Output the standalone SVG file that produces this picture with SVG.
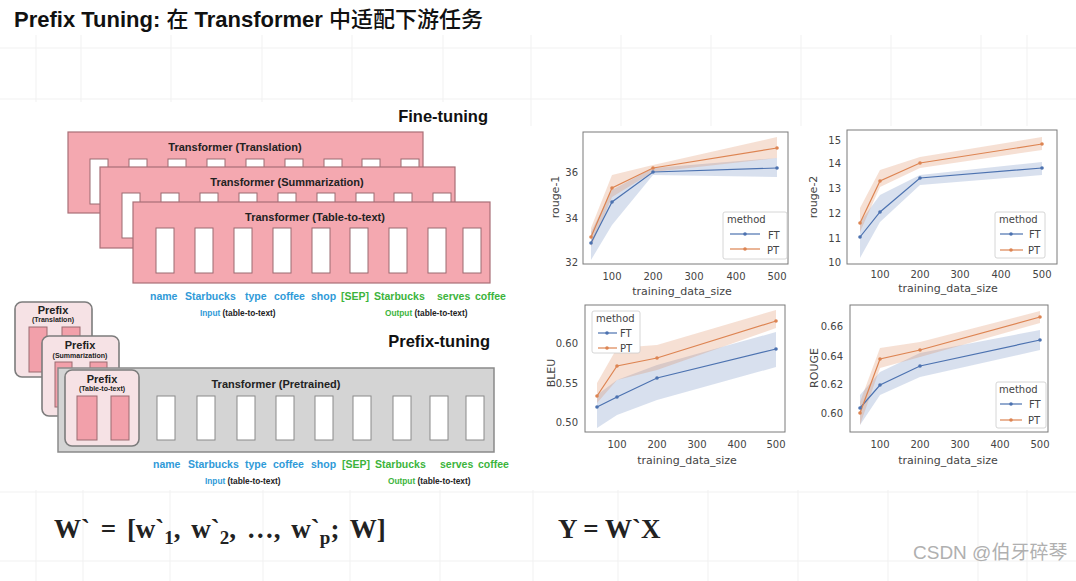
<svg xmlns="http://www.w3.org/2000/svg" width="1076" height="581" viewBox="0 0 1076 581">
<defs>
<style>
.grid{stroke:#f1f1f1;stroke-width:1;fill:none}
.ttl{font-family:"Liberation Sans","Noto Sans CJK SC",sans-serif;font-weight:bold;font-size:22px;fill:#111}
.hd{font-family:"Liberation Sans",Arial,sans-serif;font-weight:bold;font-size:16.5px;fill:#111}
.pk{fill:#f4a8b0;stroke:#a86f77;stroke-width:1.2}
.wt{fill:#ffffff;stroke:#9a6a70;stroke-width:1}
.wg{fill:#ffffff;stroke:#8a8a8a;stroke-width:1}
.tl{font-family:"Liberation Sans",Arial,sans-serif;font-weight:bold;font-size:11px;fill:#222;text-anchor:middle}
.pf{fill:#f6e2e5;stroke:#7c7c7c;stroke-width:1.6}
.pr{fill:#f2a0aa;stroke:#9a6a70;stroke-width:1}
.p1{font-family:"Liberation Sans",Arial,sans-serif;font-weight:bold;font-size:11px;fill:#222;text-anchor:middle}
.p2{font-family:"Liberation Sans",Arial,sans-serif;font-weight:bold;font-size:7px;fill:#222;text-anchor:middle}
.wd{font-family:"Liberation Sans",Arial,sans-serif;font-weight:bold;font-size:10.5px}
.bl{fill:#2f9ad8}
.gr{fill:#3cb43c}
.sm{font-family:"Liberation Sans",Arial,sans-serif;font-weight:bold;font-size:8.3px;fill:#222}
.ax{fill:#ffffff;stroke:#7a7a7a;stroke-width:1}
.tk{font-family:"DejaVu Sans",sans-serif;font-size:10px;fill:#444}
.tky{font-family:"DejaVu Sans",sans-serif;font-size:10px;fill:#444;text-anchor:end}
.tkx{font-family:"DejaVu Sans",sans-serif;font-size:10px;fill:#444;text-anchor:middle}
.lab{font-family:"DejaVu Sans",sans-serif;font-size:11px;fill:#444;text-anchor:middle}
.ftb{fill:#4c72b0;fill-opacity:0.22;stroke:none}
.ptb{fill:#dd8452;fill-opacity:0.25;stroke:none}
.ftl{fill:none;stroke:#4c72b0;stroke-width:1.2}
.ptl{fill:none;stroke:#dd8452;stroke-width:1.2}
.ftd{fill:#4c72b0}
.ptd{fill:#dd8452}
.leg{fill:#ffffff;stroke:#cccccc;stroke-width:0.8}
.fm{font-family:"Liberation Serif","Times New Roman",serif;font-weight:bold;font-size:27px;fill:#222}
.wm{font-family:"Liberation Sans","Noto Sans CJK SC",sans-serif;font-size:19px;fill:#b0b0b0}
</style>
</defs>
<rect x="0" y="0" width="1076" height="581" fill="#ffffff"/>
<g id="background-grid">
<path class="grid" d="M0 48H1076M0 99H1076M36 35V102M81 35V102M171 35V102M262 35V102M352 35V102M443 35V102M531 35V126M621 35V126M711 35V126M801 35V126M891 35V126M981 35V126M1027 35V126M0 492H1076M0 561H1076M36 490V581M83 490V581M170 490V581M263 490V581M350 490V581M440 490V581M533 490V581M618 490V581M708 490V581M798 490V581M888 490V581M978 490V581M1027 490V581"/>
</g>
<g id="title"><text class="ttl" x="14" y="27">Prefix Tuning: <tspan font-weight="500">在</tspan> Transformer <tspan font-weight="500">中适配下游任务</tspan></text></g>

<g id="fine-tuning">
<text class="hd" x="488" y="122" text-anchor="end">Fine-tuning</text>
<g id="ft-translation">
<rect class="pk" x="68" y="132" width="355" height="81"/>
<text class="tl" x="235" y="151">Transformer (Translation)</text>
<g class="wt"><rect x="90" y="159" width="18" height="45"/><rect x="129" y="159" width="18" height="45"/><rect x="168" y="159" width="18" height="45"/><rect x="207" y="159" width="18" height="45"/><rect x="246" y="159" width="18" height="45"/><rect x="285" y="159" width="18" height="45"/><rect x="324" y="159" width="18" height="45"/><rect x="362" y="159" width="18" height="45"/><rect x="401" y="159" width="18" height="45"/></g>
</g>
<g id="ft-summarization">
<rect class="pk" x="100" y="167" width="355" height="81"/>
<text class="tl" x="287" y="186">Transformer (Summarization)</text>
<g class="wt"><rect x="122" y="193" width="18" height="45"/><rect x="161" y="193" width="18" height="45"/><rect x="200" y="193" width="18" height="45"/><rect x="239" y="193" width="18" height="45"/><rect x="278" y="193" width="18" height="45"/><rect x="317" y="193" width="18" height="45"/><rect x="356" y="193" width="18" height="45"/><rect x="394" y="193" width="18" height="45"/><rect x="433" y="193" width="18" height="45"/></g>
</g>
<g id="ft-table-to-text">
<rect class="pk" x="133" y="202" width="357" height="81"/>
<text class="tl" x="315" y="221">Transformer (Table-to-text)</text>
<g class="wt"><rect x="156" y="228" width="18" height="45"/><rect x="195" y="228" width="18" height="45"/><rect x="234" y="228" width="18" height="45"/><rect x="273" y="228" width="18" height="45"/><rect x="312" y="228" width="18" height="45"/><rect x="350" y="228" width="18" height="45"/><rect x="389" y="228" width="18" height="45"/><rect x="428" y="228" width="18" height="45"/><rect x="463" y="228" width="18" height="45"/></g>
</g>
<g id="ft-tokens">
<text class="wd"><tspan class="bl" x="150" y="300">name</tspan><tspan class="bl" x="185" y="300">Starbucks</tspan><tspan class="bl" x="245" y="300">type</tspan><tspan class="bl" x="274" y="300">coffee</tspan><tspan class="bl" x="311" y="300">shop</tspan><tspan class="gr" x="341" y="300">[SEP]</tspan><tspan class="gr" x="374" y="300">Starbucks</tspan><tspan class="gr" x="437" y="300">serves</tspan><tspan class="gr" x="475" y="300">coffee</tspan></text>
<text class="sm" x="200" y="316"><tspan class="bl">Input</tspan> (table-to-text)</text>
<text class="sm" x="385" y="316"><tspan class="gr">Output</tspan> (table-to-text)</text>
</g>
</g>

<g id="prefix-tuning">
<text class="hd" x="490" y="347" text-anchor="end">Prefix-tuning</text>
<g id="prefix-translation">
<rect class="pf" x="15" y="302" width="77" height="75" rx="7"/>
<text class="p1" x="53" y="314">Prefix</text>
<text class="p2" x="53" y="322">(Translation)</text>
<rect class="pr" x="29" y="327" width="18" height="45"/><rect class="pr" x="62" y="327" width="18" height="45"/>
</g>
<g id="prefix-summarization">
<rect class="pf" x="42" y="336" width="77" height="80" rx="7"/>
<text class="p1" x="80" y="349">Prefix</text>
<text class="p2" x="80" y="358">(Summarization)</text>
<rect class="pr" x="55" y="362" width="17" height="45"/><rect class="pr" x="90" y="362" width="17" height="45"/>
</g>
<g id="transformer-pretrained">
<rect x="58" y="368" width="436" height="84" fill="#d4d4d4" stroke="#8a8a8a" stroke-width="1.5"/>
<text class="tl" x="276" y="388" font-size="11.5">Transformer  (Pretrained)</text>
<g class="wg"><rect x="157" y="396" width="18" height="44"/><rect x="197" y="396" width="18" height="44"/><rect x="237" y="396" width="18" height="44"/><rect x="276" y="396" width="18" height="44"/><rect x="315" y="396" width="18" height="44"/><rect x="353" y="396" width="18" height="44"/><rect x="393" y="396" width="18" height="44"/><rect x="430" y="396" width="18" height="44"/><rect x="466" y="396" width="18" height="44"/></g>
</g>
<g id="prefix-table-to-text">
<rect class="pf" x="65" y="370" width="74" height="76" rx="7"/>
<text class="p1" x="102" y="383">Prefix</text>
<text class="p2" x="102" y="391">(Table-to-text)</text>
<rect class="pr" x="77" y="396" width="20" height="44"/><rect class="pr" x="111" y="396" width="18" height="44"/>
</g>
<g id="pt-tokens">
<text class="wd"><tspan class="bl" x="153" y="468">name</tspan><tspan class="bl" x="188" y="468">Starbucks</tspan><tspan class="bl" x="245" y="468">type</tspan><tspan class="bl" x="273" y="468">coffee</tspan><tspan class="bl" x="311" y="468">shop</tspan><tspan class="gr" x="342" y="468">[SEP]</tspan><tspan class="gr" x="375" y="468">Starbucks</tspan><tspan class="gr" x="440" y="468">serves</tspan><tspan class="gr" x="478" y="468">coffee</tspan></text>
<text class="sm" x="205" y="484"><tspan class="bl">Input</tspan> (table-to-text)</text>
<text class="sm" x="388" y="484"><tspan class="gr">Output</tspan> (table-to-text)</text>
</g>
</g>

<g id="connectors"></g>

<g id="chart-rouge1">
<rect class="ax" x="583" y="132" width="205" height="132"/>
<polygon class="ftb" points="591,232 612,190 653,168 777,158 777,177 653,175 612,225 591,260"/>
<polygon class="ptb" points="591,228 612,175 653,165 777,137 777,158 653,172 612,197 591,247"/>
<polyline class="ftl" points="591,243 612,202 653,172 777,168"/>
<polyline class="ptl" points="591,237 612,188 653,168 777,148"/>
<g class="ftd"><circle cx="591" cy="243" r="1.8"/><circle cx="612" cy="202" r="1.8"/><circle cx="653" cy="172" r="1.8"/><circle cx="777" cy="168" r="1.8"/></g>
<g class="ptd"><circle cx="591" cy="237" r="1.8"/><circle cx="612" cy="188" r="1.8"/><circle cx="653" cy="168" r="1.8"/><circle cx="777" cy="148" r="1.8"/></g>
<text class="tky" x="578" y="265.5">32</text><text class="tky" x="578" y="221.5">34</text><text class="tky" x="578" y="175.5">36</text>
<text class="tkx" x="612" y="280">100</text><text class="tkx" x="653" y="280">200</text><text class="tkx" x="694" y="280">300</text><text class="tkx" x="736" y="280">400</text><text class="tkx" x="777" y="280">500</text>
<text class="lab" x="682" y="295">training_data_size</text>
<text class="lab" transform="translate(559 197) rotate(-90)">rouge-1</text>
<rect class="leg" x="723" y="212" width="64" height="47" rx="2"/>
<text class="tk" x="727" y="223" font-size="13">method</text>
<line class="ftl" x1="730" y1="234" x2="760" y2="234"/><circle class="ftd" cx="745" cy="234" r="1.8"/><text class="tk" x="768" y="238.5" font-size="12">FT</text>
<line class="ptl" x1="730" y1="249" x2="760" y2="249"/><circle class="ptd" cx="745" cy="249" r="1.8"/><text class="tk" x="767" y="253.5" font-size="12">PT</text>
</g>

<g id="chart-rouge2">
<rect class="ax" x="847" y="130" width="210" height="134"/>
<polygon class="ftb" points="860,222 880,195 920,175 1042,162 1042,175 920,185 880,222 860,258"/>
<polygon class="ptb" points="860,208 880,170 920,157 1042,137 1042,150 920,168 880,187 860,232"/>
<polyline class="ftl" points="860,237 880,212 920,178 1042,168"/>
<polyline class="ptl" points="860,223 880,181 920,163 1042,144"/>
<g class="ftd"><circle cx="860" cy="237" r="1.8"/><circle cx="880" cy="212" r="1.8"/><circle cx="920" cy="178" r="1.8"/><circle cx="1042" cy="168" r="1.8"/></g>
<g class="ptd"><circle cx="860" cy="223" r="1.8"/><circle cx="880" cy="181" r="1.8"/><circle cx="920" cy="163" r="1.8"/><circle cx="1042" cy="144" r="1.8"/></g>
<text class="tky" x="841" y="143.5">15</text><text class="tky" x="841" y="166.5">14</text><text class="tky" x="841" y="191.5">13</text><text class="tky" x="841" y="216.5">12</text><text class="tky" x="841" y="241.5">11</text><text class="tky" x="841" y="265.5">10</text>
<text class="tkx" x="880" y="278">100</text><text class="tkx" x="920" y="278">200</text><text class="tkx" x="960" y="278">300</text><text class="tkx" x="1001" y="278">400</text><text class="tkx" x="1042" y="278">500</text>
<text class="lab" x="948" y="292">training_data_size</text>
<text class="lab" transform="translate(817 197) rotate(-90)">rouge-2</text>
<rect class="leg" x="995" y="212" width="50" height="46" rx="2"/>
<text class="tk" x="999" y="223" font-size="10.5">method</text>
<line class="ftl" x1="1000" y1="234" x2="1023" y2="234"/><circle class="ftd" cx="1011" cy="234" r="1.8"/><text class="tk" x="1029" y="237.5">FT</text>
<line class="ptl" x1="1000" y1="250" x2="1023" y2="250"/><circle class="ptd" cx="1011" cy="250" r="1.8"/><text class="tk" x="1028" y="253.5">PT</text>
</g>

<g id="chart-bleu">
<rect class="ax" x="585" y="305" width="200" height="127"/>
<polygon class="ftb" points="597,395 617,380 657,365 776,332 776,367 657,400 617,415 597,428"/>
<polygon class="ptb" points="597,383 617,348 657,345 776,310 776,328 657,370 617,380 597,403"/>
<polyline class="ftl" points="597,407 617,397 657,378 776,349"/>
<polyline class="ptl" points="597,396 617,366 657,358 776,321"/>
<g class="ftd"><circle cx="597" cy="407" r="1.8"/><circle cx="617" cy="397" r="1.8"/><circle cx="657" cy="378" r="1.8"/><circle cx="776" cy="349" r="1.8"/></g>
<g class="ptd"><circle cx="597" cy="396" r="1.8"/><circle cx="617" cy="366" r="1.8"/><circle cx="657" cy="358" r="1.8"/><circle cx="776" cy="321" r="1.8"/></g>
<text class="tky" x="578" y="346.5">0.60</text><text class="tky" x="578" y="386.5">0.55</text><text class="tky" x="578" y="425.5">0.50</text>
<text class="tkx" x="617" y="448">100</text><text class="tkx" x="657" y="448">200</text><text class="tkx" x="697" y="448">300</text><text class="tkx" x="737" y="448">400</text><text class="tkx" x="776" y="448">500</text>
<text class="lab" x="687" y="464">training_data_size</text>
<text class="lab" transform="translate(555 373) rotate(-90)">BLEU</text>
<rect class="leg" x="592" y="311" width="48" height="42" rx="2"/>
<text class="tk" x="596" y="322" font-size="10.5">method</text>
<line class="ftl" x1="598" y1="333" x2="617" y2="333"/><circle class="ftd" cx="607" cy="333" r="1.8"/><text class="tk" x="620" y="336.5">FT</text>
<line class="ptl" x1="598" y1="348" x2="617" y2="348"/><circle class="ptd" cx="607" cy="348" r="1.8"/><text class="tk" x="620" y="351.5">PT</text>
</g>

<g id="chart-rouge">
<rect class="ax" x="850" y="305" width="198" height="127"/>
<polygon class="ftb" points="860,395 880,372 920,353 1040,330 1040,350 920,377 880,395 860,425"/>
<polygon class="ptb" points="860,402 880,348 920,342 1040,311 1040,323 920,357 880,368 860,425"/>
<polyline class="ftl" points="860,408 880,385 920,366 1040,340"/>
<polyline class="ptl" points="860,413 880,359 920,350 1040,317"/>
<g class="ftd"><circle cx="860" cy="408" r="1.8"/><circle cx="880" cy="385" r="1.8"/><circle cx="920" cy="366" r="1.8"/><circle cx="1040" cy="340" r="1.8"/></g>
<g class="ptd"><circle cx="860" cy="413" r="1.8"/><circle cx="880" cy="359" r="1.8"/><circle cx="920" cy="350" r="1.8"/><circle cx="1040" cy="317" r="1.8"/></g>
<text class="tky" x="843" y="329.5">0.66</text><text class="tky" x="843" y="359.5">0.64</text><text class="tky" x="843" y="387.5">0.62</text><text class="tky" x="843" y="416.5">0.60</text>
<text class="tkx" x="880" y="448">100</text><text class="tkx" x="920" y="448">200</text><text class="tkx" x="960" y="448">300</text><text class="tkx" x="1000" y="448">400</text><text class="tkx" x="1040" y="448">500</text>
<text class="lab" x="948" y="464">training_data_size</text>
<text class="lab" transform="translate(818 368) rotate(-90)">ROUGE</text>
<rect class="leg" x="996" y="382" width="50" height="46" rx="2"/>
<text class="tk" x="999" y="393" font-size="10.5">method</text>
<line class="ftl" x1="1000" y1="404" x2="1022" y2="404"/><circle class="ftd" cx="1011" cy="404" r="1.8"/><text class="tk" x="1029" y="407.5">FT</text>
<line class="ptl" x1="1000" y1="420" x2="1022" y2="420"/><circle class="ptd" cx="1011" cy="420" r="1.8"/><text class="tk" x="1028" y="423.5">PT</text>
</g>

<g id="formulas">
<text class="fm" x="54" y="538" word-spacing="4">W` = [w`<tspan dy="6" font-size="19">1</tspan><tspan dy="-6">, w`</tspan><tspan dy="6" font-size="19">2</tspan><tspan dy="-6">, …, w`</tspan><tspan dy="6" font-size="19">p</tspan><tspan dy="-6">; W]</tspan></text>
<text class="fm" x="558" y="538">Y = W`X</text>
</g>
<g id="watermark"><text class="wm" x="913" y="559">CSDN @伯牙碎琴</text></g>
</svg>
